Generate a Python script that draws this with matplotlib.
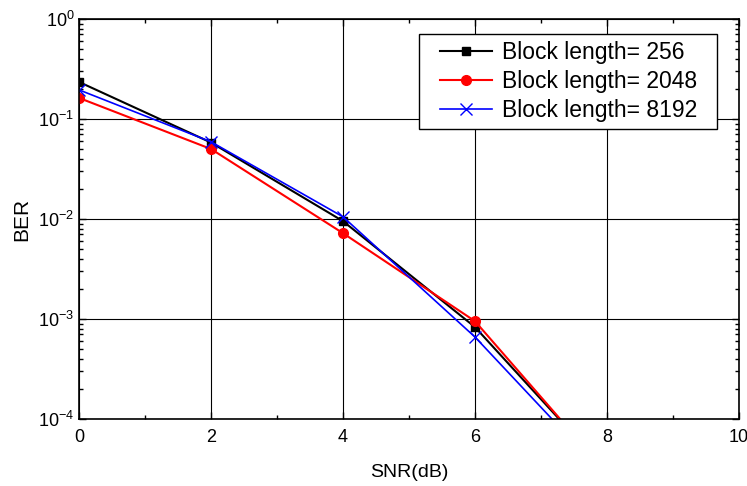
import matplotlib
matplotlib.use("Agg")
import matplotlib.pyplot as plt
from matplotlib.lines import Line2D
from matplotlib.legend_handler import HandlerLine2D
import numpy as np

plt.rcParams['font.family'] = ['Liberation Sans', 'DejaVu Sans']
plt.rcParams['mathtext.fontset'] = 'custom'
plt.rcParams['mathtext.rm'] = 'Liberation Sans'
plt.rcParams['mathtext.it'] = 'Liberation Sans'

snr = [0, 2, 4, 6, 8]
ber_256 = [0.234, 0.058, 0.0095, 8.3e-4, 3.0e-5]
ber_2048 = [0.162, 0.050, 0.0072, 9.5e-4, 2.9e-5]
ber_8192 = [0.195, 0.059, 0.0105, 6.6e-4, 2.6e-5]

fig = plt.figure(figsize=(7.47, 4.86), dpi=100)
ax = fig.add_axes([0.106, 0.138, 0.883, 0.823])

ax.plot(snr, ber_256, color='black', lw=1.5, marker='s', ms=6, label='Block length= 256  ')
ax.plot(snr, ber_2048, color='red', lw=1.5, marker='o', ms=7, label='Block length= 2048  ')
ax.plot(snr, ber_8192, color='blue', lw=1.2, marker='x', ms=8, mew=1, label='Block length= 8192  ')

ax.set_yscale('log')
ax.set_xlim(0, 10)
ax.set_ylim(1e-4, 1)
ax.set_xticks([0, 2, 4, 6, 8, 10])
ax.set_xticks([1, 3, 5, 7, 9], minor=True)
ax.grid(True, which='major', color='black', lw=0.8)
ax.tick_params(which='both', direction='in', top=True, right=True, labelsize=13)
ax.tick_params(which='major', length=5, width=1)
ax.tick_params(which='minor', length=3, width=1)
ax.tick_params(axis='x', which='major', pad=7)
for s in ax.spines.values():
    s.set_linewidth(1.2)

ax.set_xlabel('SNR(dB)', fontsize=14, labelpad=13)
ax.set_ylabel('BER', fontsize=15, labelpad=5)

# handle drawn with some left padding inside the legend box
leg = ax.legend(loc='upper right', bbox_to_anchor=(717 / 747, 1 - 34 / 486),
                bbox_transform=fig.transFigure, borderaxespad=0,
                fontsize=16.5, fancybox=False, framealpha=1, edgecolor='black',
                handlelength=2.87, labelspacing=0.26, borderpad=0.3,
                handletextpad=0.44,
                handler_map={Line2D: HandlerLine2D(xpad=0.6)})
leg.get_frame().set_linewidth(1.0)

fig.savefig('out.png', dpi=100)
